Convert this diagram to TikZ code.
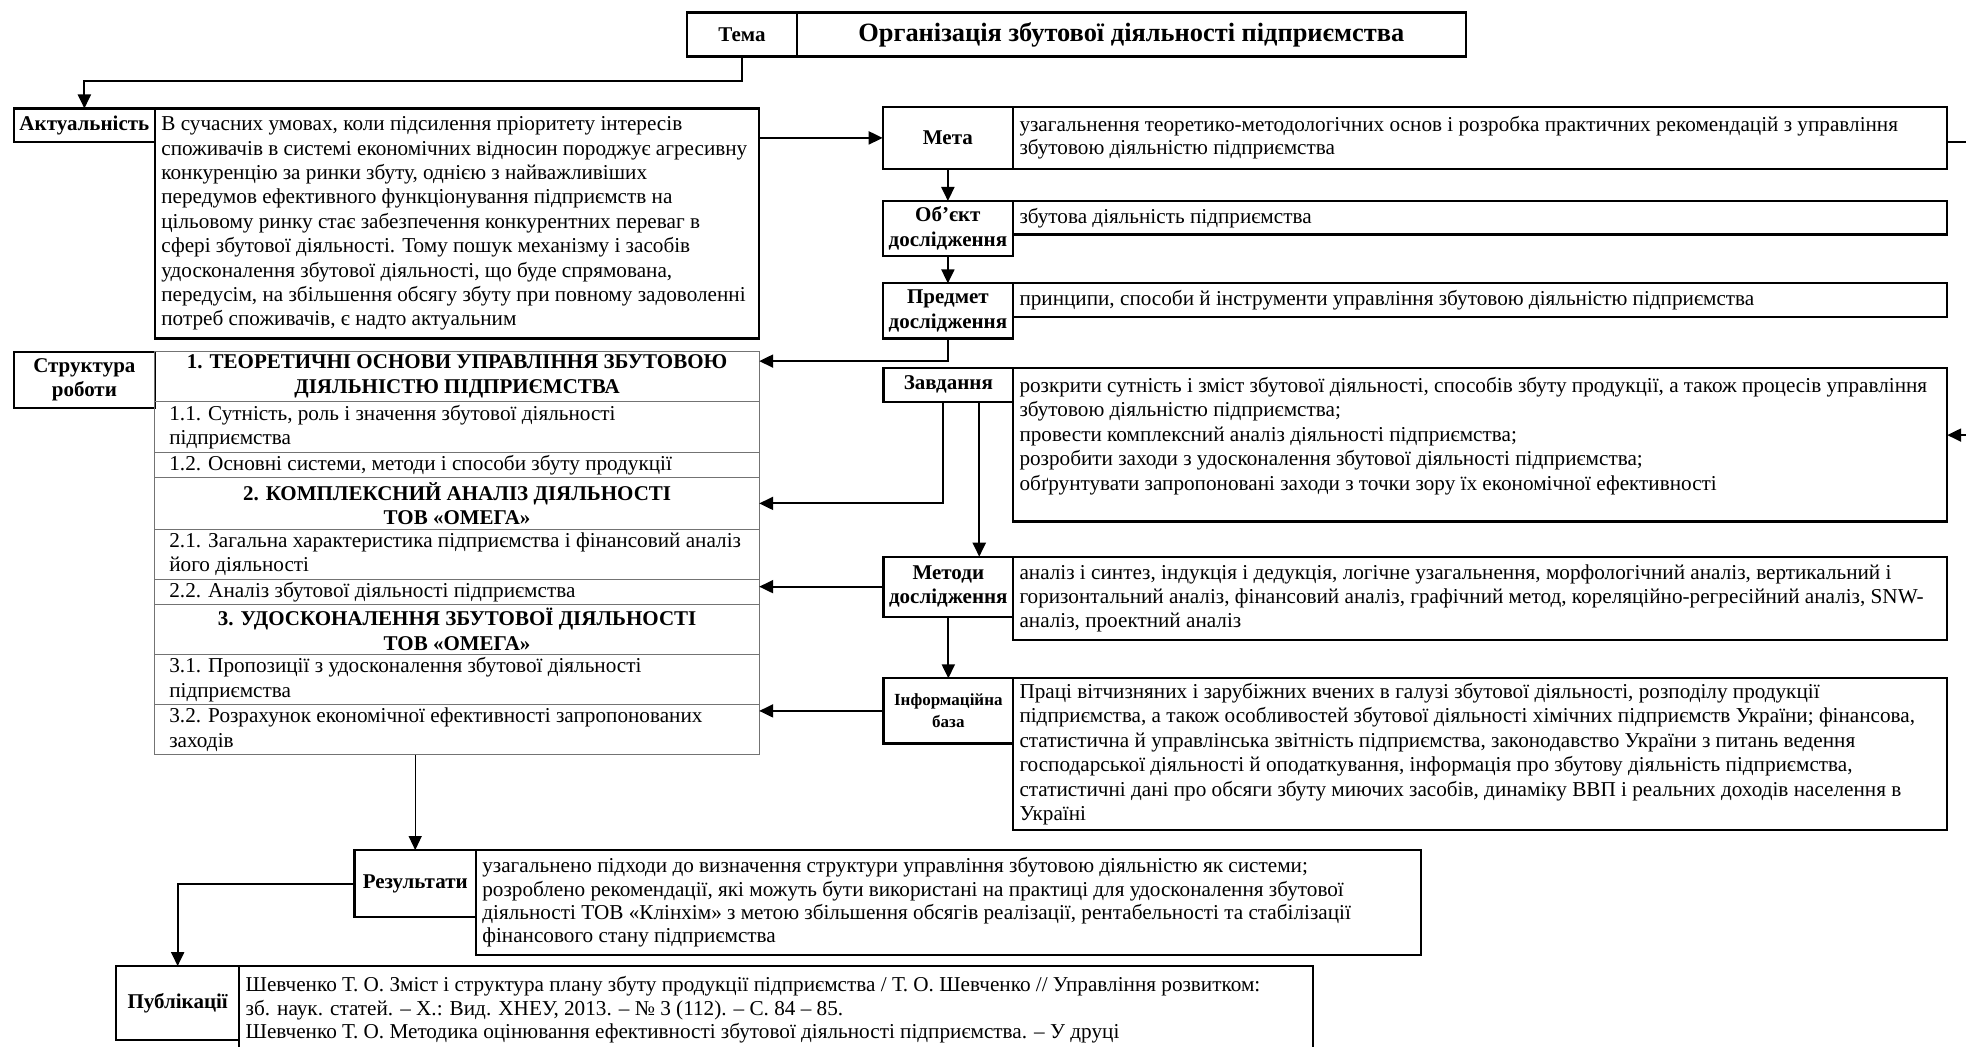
\documentclass[tikz,border=0pt]{standalone}
\usepackage{fontspec}
\setmainfont{Liberation Serif}
\usetikzlibrary{fit,arrows.meta,calc}
\begin{document}
\begin{tikzpicture}[x=0.6269pt,y=-0.6269pt,
  >={Triangle[length=7pt,width=6.5pt]},
  bx/.style={draw, line width=1.1pt, inner sep=0pt, outer sep=0pt},
  labtxt/.style={inner sep=0pt, align=center, font=\fontsize{10.5}{12.2}\selectfont\bfseries},
  rowbox/.style={draw=black!55, line width=0.5pt, inner sep=0pt, outer sep=0pt},
  txt/.style={inner sep=0pt, align=left, anchor=west, font=\fontsize{10.6}{12.2}\selectfont},
  hdr/.style={inner sep=0pt, align=center, font=\fontsize{10.5}{12.2}\selectfont\bfseries},
  conn/.style={line width=1pt, ->},
  thinconn/.style={line width=0.6pt, ->}
]
\fill[white] (0,0) rectangle (1568,835);
\useasboundingbox (0,0) rectangle (1568,835);

% ---- theme
\node[bx, fit={(548,10) (635.5,45)}] (tema) {};
\node[labtxt] (t-tema) at (tema.center) {Тема};
\node[bx, fit={(635.5,10) (1169,45)}] (title) {};
\node[labtxt, font=\fontsize{13.2}{15}\selectfont\bfseries] (t-title) at (title.center) {Організація збутової діяльності підприємства};

% ---- actuality
\node[bx, fit={(11,86.5) (123.6,113)}] (aktl) {};
\node[labtxt] (t-aktl) at (aktl.center) {Актуальність};
\node[bx, fit={(123.6,86.5) (605.5,270)}] (aktt) {};
\node[txt] (t-akt) at ([xshift=3pt]aktt.west) {В сучасних умовах, коли підсилення пріоритету інтересів\\
споживачів в системі економічних відносин породжує агресивну\\
конкуренцію за ринки збуту, однією з найважливіших\\
передумов ефективного функціонування підприємств на\\
цільовому ринку стає забезпечення конкурентних переваг в\\
сфері збутової діяльності. Тому пошук механізму і засобів\\
удосконалення збутової діяльності, що буде спрямована,\\
передусім, на збільшення обсягу збуту при повному задоволенні\\
потреб споживачів, є надто актуальним};

% ---- right column
\node[bx, fit={(704,85.5) (808,134.5)}] (metal) {};
\node[labtxt] (t-metal) at (metal.center) {Мета};
\node[bx, fit={(808,85.5) (1553,134.5)}] (metat) {};
\node[txt, font=\fontsize{10.6}{11.7}\selectfont] (t-meta) at ([xshift=3pt]metat.west) {узагальнення теоретико-методологічних основ і розробка практичних рекомендацій з управління\\
збутовою діяльністю підприємства};

\node[bx, fit={(704,160.3) (808,204)}] (objl) {};
\node[labtxt] (t-objl) at (objl.center) {Об’єкт\\дослідження};
\node[bx, fit={(808,160.3) (1553,187)}] (objt) {};
\node[txt] (t-obj) at ([xshift=3pt]objt.west) {збутова діяльність підприємства};

\node[bx, fit={(704,226) (808,270)}] (predl) {};
\node[labtxt] (t-predl) at (predl.center) {Предмет\\дослідження};
\node[bx, fit={(808,226) (1553,253)}] (predt) {};
\node[txt] (t-pred) at ([xshift=3pt]predt.west) {принципи, способи й інструменти управління збутовою діяльністю підприємства};

\node[bx, fit={(704.7,293.5) (808,320.4)}] (zavl) {};
\node[labtxt] (t-zavl) at (zavl.center) {Завдання};
\node[bx, fit={(808,293.5) (1553,416)}] (zavt) {};
\node[txt, anchor=north west] (t-zav) at ([xshift=3pt,yshift=-4.5pt]zavt.north west) {розкрити сутність і зміст збутової діяльності, способів збуту продукції, а також процесів управління\\
збутовою діяльністю підприємства;\\
провести комплексний аналіз діяльності підприємства;\\
розробити заходи з удосконалення збутової діяльності підприємства;\\
обґрунтувати запропоновані заходи з точки зору їх економічної ефективності};

\node[bx, fit={(704.7,444) (808,491.8)}] (metl) {};
\node[labtxt] (t-metl) at (metl.center) {Методи\\дослідження};
\node[bx, fit={(808,444) (1553,510.5)}] (mett) {};
\node[txt] (t-met) at ([xshift=3pt]mett.west) {аналіз і синтез, індукція і дедукція, логічне узагальнення, морфологічний аналіз, вертикальний і\\
горизонтальний аналіз, фінансовий аналіз, графічний метод, кореляційно-регресійний аналіз, SNW-\\
аналіз, проектний аналіз};

\node[bx, fit={(704.7,541) (808,593)}] (infl) {};
\node[labtxt, font=\fontsize{8.5}{10.8}\selectfont\bfseries] (t-infl) at (infl.center) {Інформаційна\\база};
\node[bx, fit={(808,541) (1553,662)}] (inft) {};
\node[txt] (t-inf) at ([xshift=3pt]inft.west) {Праці вітчизняних і зарубіжних вчених в галузі збутової діяльності, розподілу продукції\\
підприємства, а також особливостей збутової діяльності хімічних підприємств України; фінансова,\\
статистична й управлінська звітність підприємства, законодавство України з питань ведення\\
господарської діяльності й оподаткування, інформація про збутову діяльність підприємства,\\
статистичні дані про обсяги збуту миючих засобів, динаміку ВВП і реальних доходів населення в\\
Україні};

% ---- structure table
\node[bx, fit={(11,280.5) (123.6,325.5)}] (strl) {};
\node[labtxt] (t-strl) at (strl.center) {Структура\\роботи};
\node[rowbox, fit={(123.6,280.5) (605.5,320)}] (r1) {};
\node[rowbox, fit={(123.6,320) (605.5,361)}] (r11) {};
\node[rowbox, fit={(123.6,361) (605.5,381)}] (r12) {};
\node[rowbox, fit={(123.6,381) (605.5,422)}] (r2) {};
\node[rowbox, fit={(123.6,422) (605.5,462)}] (r21) {};
\node[rowbox, fit={(123.6,462) (605.5,482)}] (r22) {};
\node[rowbox, fit={(123.6,482) (605.5,522)}] (r3) {};
\node[rowbox, fit={(123.6,522) (605.5,562)}] (r31) {};
\node[rowbox, fit={(123.6,562) (605.5,602)}] (r32) {};
\node[hdr] (t-r1) at (r1.center) {1. ТЕОРЕТИЧНІ ОСНОВИ УПРАВЛІННЯ ЗБУТОВОЮ\\ДІЯЛЬНІСТЮ ПІДПРИЄМСТВА};
\node[txt] (t-r11) at ([xshift=7pt]r11.west) {1.1. Сутність, роль і значення збутової діяльності\\підприємства};
\node[txt] (t-r12) at ([xshift=7pt]r12.west) {1.2. Основні системи, методи і способи збуту продукції};
\node[hdr] (t-r2) at (r2.center) {2. КОМПЛЕКСНИЙ АНАЛІЗ ДІЯЛЬНОСТІ\\ТОВ «ОМЕГА»};
\node[txt] (t-r21) at ([xshift=7pt]r21.west) {2.1. Загальна характеристика підприємства і фінансовий аналіз\\його діяльності};
\node[txt] (t-r22) at ([xshift=7pt]r22.west) {2.2. Аналіз збутової діяльності підприємства};
\node[hdr] (t-r3) at (r3.center) {3. УДОСКОНАЛЕННЯ ЗБУТОВОЇ ДІЯЛЬНОСТІ\\ТОВ «ОМЕГА»};
\node[txt] (t-r31) at ([xshift=7pt]r31.west) {3.1. Пропозиції з удосконалення збутової діяльності\\підприємства};
\node[txt] (t-r32) at ([xshift=7pt]r32.west) {3.2. Розрахунок економічної ефективності запропонованих\\заходів};

% ---- results
\node[bx, fit={(282.7,678) (379.6,731.6)}] (resl) {};
\node[labtxt] (t-resl) at (resl.center) {Результати};
\node[bx, fit={(379.6,678) (1133,761.7)}] (rest) {};
\node[txt, font=\fontsize{10.6}{11.7}\selectfont] (t-res) at ([xshift=3pt]rest.west) {узагальнено підходи до визначення структури управління збутовою діяльністю як системи;\\
розроблено рекомендації, які можуть бути використані на практиці для удосконалення збутової\\
діяльності ТОВ «Клінхім» з метою збільшення обсягів реалізації, рентабельності та стабілізації\\
фінансового стану підприємства};

% ---- publications
\node[bx, fit={(92.6,770.5) (190.8,829.5)}] (publ) {};
\node[labtxt] (t-publ) at (publ.center) {Публікації};
\node[bx, fit={(190.8,770.5) (1047,880)}] (pubt) {};
\node[txt, anchor=north west, font=\fontsize{10.6}{11.8}\selectfont] (t-pub) at ([xshift=3pt,yshift=-5pt]pubt.north west) {Шевченко Т. О. Зміст і структура плану збуту продукції підприємства / Т. О. Шевченко // Управління розвитком:\\
зб. наук. статей. – Х.: Вид. ХНЕУ, 2013. – № 3 (112). – С. 84 – 85.\\
Шевченко Т. О. Методика оцінювання ефективності збутової діяльності підприємства. – У друці};

% ---- connectors
\coordinate (b1) at (0,65);
\coordinate (b2) at (0,288);
\coordinate (b3) at (0,347);
\coordinate (b4) at (0,113);
\coordinate (z1) at (752,0);
\coordinate (z2) at (781,0);
\coordinate (far) at (1600,0);

\draw[conn] (tema.south) -- (tema.south |- b1) -| (aktl.north);
\draw[conn] (aktt.east |- metal.west) -- (metal.west);
\draw[conn] (metal.south) -- (objl.north);
\draw[conn] (objl.south) -- (predl.north);
\draw[conn] (predl.south) -- (predl.south |- b2) -- (r1.east |- b2);
\draw[conn] (zavl.south -| z1) |- (r2.east);
\draw[conn] (zavl.south -| z2) -- (metl.north -| z2);
\draw[conn] (metl.west) -- (metl.west -| r22.east);
\draw[conn] (metl.south) -- (infl.north);
\draw[conn] (infl.west) -- (infl.west -| r32.east);
\draw[thinconn] (r32.south -| resl.north) -- (resl.north);
\draw[conn] (resl.west) -| (publ.north);
\draw[conn] (metat.east |- b4) -- (far |- b4) |- (zavt.east |- b3);
\end{tikzpicture}
\end{document}
